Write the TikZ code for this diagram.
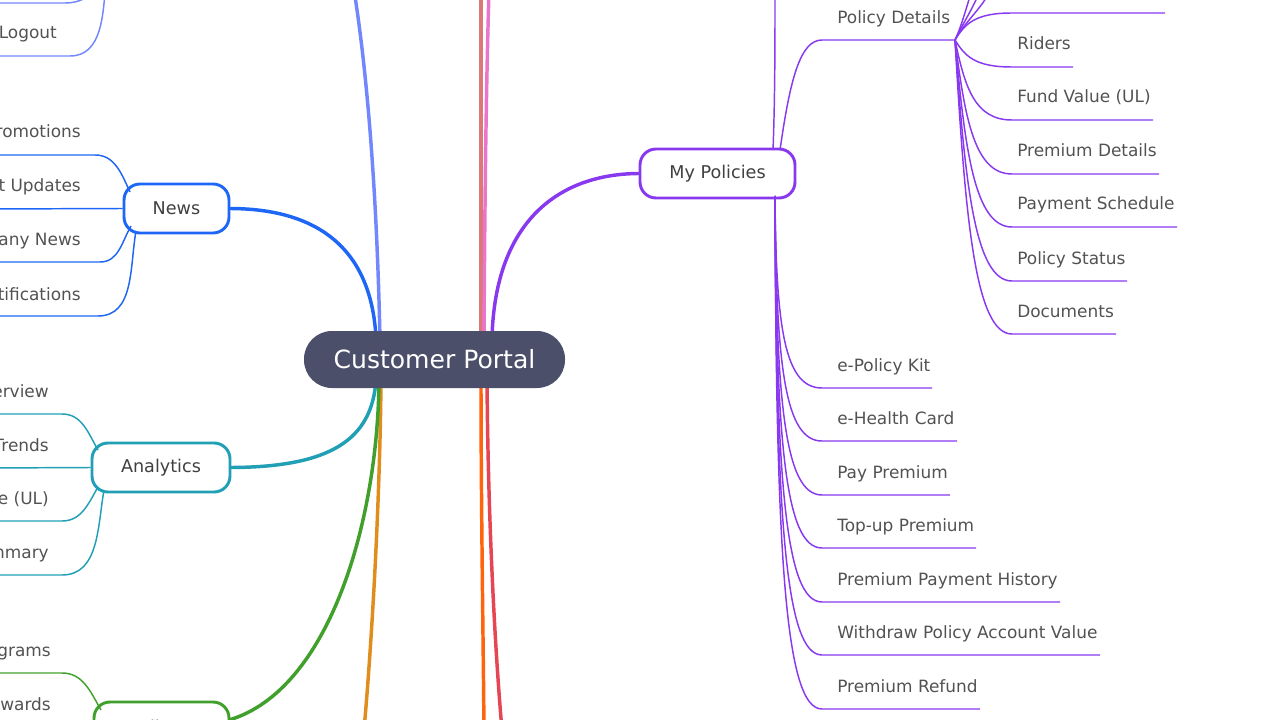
\documentclass[tikz,border=0pt]{standalone}
\usepackage{fontspec}
\setmainfont{DejaVu Sans}
\begin{document}
\begin{tikzpicture}[x=0.75pt,y=-0.75pt,
  leaf/.style={font=\fontsize{12.7}{14}\selectfont, text=black!68, anchor=base west, inner sep=0pt},
  br/.style={draw=#1, line width=2.2pt, rounded corners=12pt, fill=white, font=\fontsize{13.2}{15}\selectfont, text=black!75, inner sep=0pt},
  main/.style={line width=2.6pt, line cap=round},
  thin/.style={line width=1.1pt}]
\definecolor{cblue}{HTML}{1E66F5}\definecolor{cteal}{HTML}{209FB5}
\definecolor{cgreen}{HTML}{40A02B}\definecolor{cpurp}{HTML}{8839EF}
\definecolor{clav}{HTML}{7287FD}\definecolor{cbrown}{HTML}{DD7878}
\definecolor{cpink}{HTML}{EA76CB}\definecolor{corange}{HTML}{DF8E1D}
\definecolor{cora}{HTML}{FE640B}\definecolor{cred}{HTML}{E64553}
\definecolor{cdark}{HTML}{4C4F69}
\useasboundingbox (0,0) rectangle (1280,720);
\clip (0,0) rectangle (1280,720);
% main connectors
\coordinate (t1) at (354,-10); \coordinate (t2) at (481,-10); \coordinate (t3) at (489,-10);
\coordinate (b1) at (364,730); \coordinate (b2) at (484,730); \coordinate (b3) at (502,730);
\draw[main,clav] (380,340) .. controls (376,150) and (362,40) .. (t1);
\draw[main,cbrown] (481,340) -- (t2);
\draw[main,cpink] (484,340) .. controls (485,150) and (487,60) .. (t3);
\draw[main,corange] (381,380) .. controls (380,500) and (372,640) .. (b1);
\draw[main,cora] (481,380) .. controls (481,500) and (483,620) .. (b2);
\draw[main,cred] (487,380) .. controls (488,520) and (495,650) .. (b3);
% nodes
\node[br=cblue, minimum width=105*0.75pt, minimum height=49*0.75pt] (news) at (176.5,208.5) {News};
\node[br=cteal, minimum width=138*0.75pt, minimum height=49*0.75pt] (ana) at (161,467.5) {Analytics};
\node[br=cgreen, minimum width=135*0.75pt, minimum height=49*0.75pt] (well) at (161.5,726.5) {Wellness};
\node[br=cpurp, minimum width=155*0.75pt, minimum height=49*0.75pt] (pol) at (717.5,173.5) {My Policies};
\draw[main,cblue] (news.east) .. controls (330,209) and (372,260) .. (376,338);
\draw[main,cteal] (ana.east) .. controls (330,467) and (372,440) .. (376,380);
\draw[main,cgreen] (229,720) .. controls (330,690) and (378,520) .. (379,380);
\draw[main,cpurp] (492,338) .. controls (495,220) and (560,174) .. (pol.west);
\node[fill=cdark, rounded corners=28*0.75pt, minimum width=261*0.75pt, minimum height=57*0.75pt, text=white, font=\fontsize{18.8}{22}\selectfont, inner sep=0pt] (cp) at (434.5,359.5) {Customer Portal};
% top-left lavender
\coordinate (lv1) at (100,-20); \coordinate (lv2) at (106,-20);
\draw[thin,clav] (-10,3) -- (65,3) to[out=0,in=-110] (lv1);
\node[leaf] (lo) at (57,39) [anchor=base east] {Logout};
\draw[thin,clav] (-10,56) -- (70,56) to[out=0,in=-95] (lv2);
% News children
\node[leaf] (n1) at (81,138) [anchor=base east] {Promotions};
\node[leaf] (n2) at (81,192) [anchor=base east] {Product Updates};
\node[leaf] (n3) at (81,246) [anchor=base east] {Company News};
\node[leaf] (n4) at (81,300) [anchor=base east] {Notifications};
\draw[thin,cblue] (-10,155) -- (95,155) to[out=0,in=115] (130,192);
\draw[thin,cblue] (-10,209) -- (news.west);
\draw[thin,cblue] (-10,262) -- (100,262) to[out=0,in=-120] (131,226);
\draw[thin,cblue] (-10,316) -- (98,316) to[out=0,in=-100] (136,231);
% Analytics children
\node[leaf] (a1) at (49,397) [anchor=base east] {Overview};
\node[leaf] (a2) at (49,451) [anchor=base east] {Trends};
\node[leaf] (a3) at (49,504) [anchor=base east] {Fund Value (UL)};
\node[leaf] (a4) at (49,558) [anchor=base east] {Summary};
\draw[thin,cteal] (-10,414) -- (62,414) to[out=0,in=120] (98,450);
\draw[thin,cteal] (-10,468) -- (ana.west);
\draw[thin,cteal] (-10,521) -- (62,521) to[out=0,in=-120] (98,487);
\draw[thin,cteal] (-10,575) -- (62,575) to[out=0,in=-100] (104,490);
% green children
\node[leaf] (g1) at (51,656) [anchor=base east] {Programs};
\node[leaf] (g2) at (51,710) [anchor=base east] {Rewards};
\draw[thin,cgreen] (-10,673) -- (62,673) to[out=0,in=120] (101,710);
% Policy Details
\node[leaf] (pd) at (837,24) {Policy Details};
\coordinate (pdj) at (955,40);
\draw[thin,cpurp] (773,150) .. controls (775,100) and (775,40) .. (775,-10);
\draw[thin,cpurp] (780,150) .. controls (790,80) and (800,40) .. (822,40) -- (pdj);
\foreach \xe in {972,980,990}{
  \draw[thin,cpurp] (pdj) .. controls (962,25) and (\xe-5,5) .. (\xe,-10);}
\foreach \xe/\yy/\t in {1165/13/{},1073/67/Riders,1153/120/Fund Value (UL),1159/174/Premium Details,1177/227/Payment Schedule,1127/281/Policy Status,1116/334/Documents}{
  \draw[thin,cpurp] (pdj) .. controls (965,{40+0.6*(\yy-40)}) and (975,\yy) .. (1012,\yy) -- (\xe,\yy);
  \node[leaf] at (1017,\yy-17) {\t};}
% lower children of My Policies
\foreach \xe/\yy/\t in {932/388/e-Policy Kit,957/441/e-Health Card,950/495/Pay Premium,976/548/Top-up Premium,1060/602/Premium Payment History,1100/655/Withdraw Policy Account Value,980/709/Premium Refund}{
  \draw[thin,cpurp] (775,196) .. controls (776,{196+0.7*(\yy-196)}) and (785,\yy) .. (822,\yy) -- (\xe,\yy);
  \node[leaf] at (837,\yy-17) {\t};}
\end{tikzpicture}
\end{document}
